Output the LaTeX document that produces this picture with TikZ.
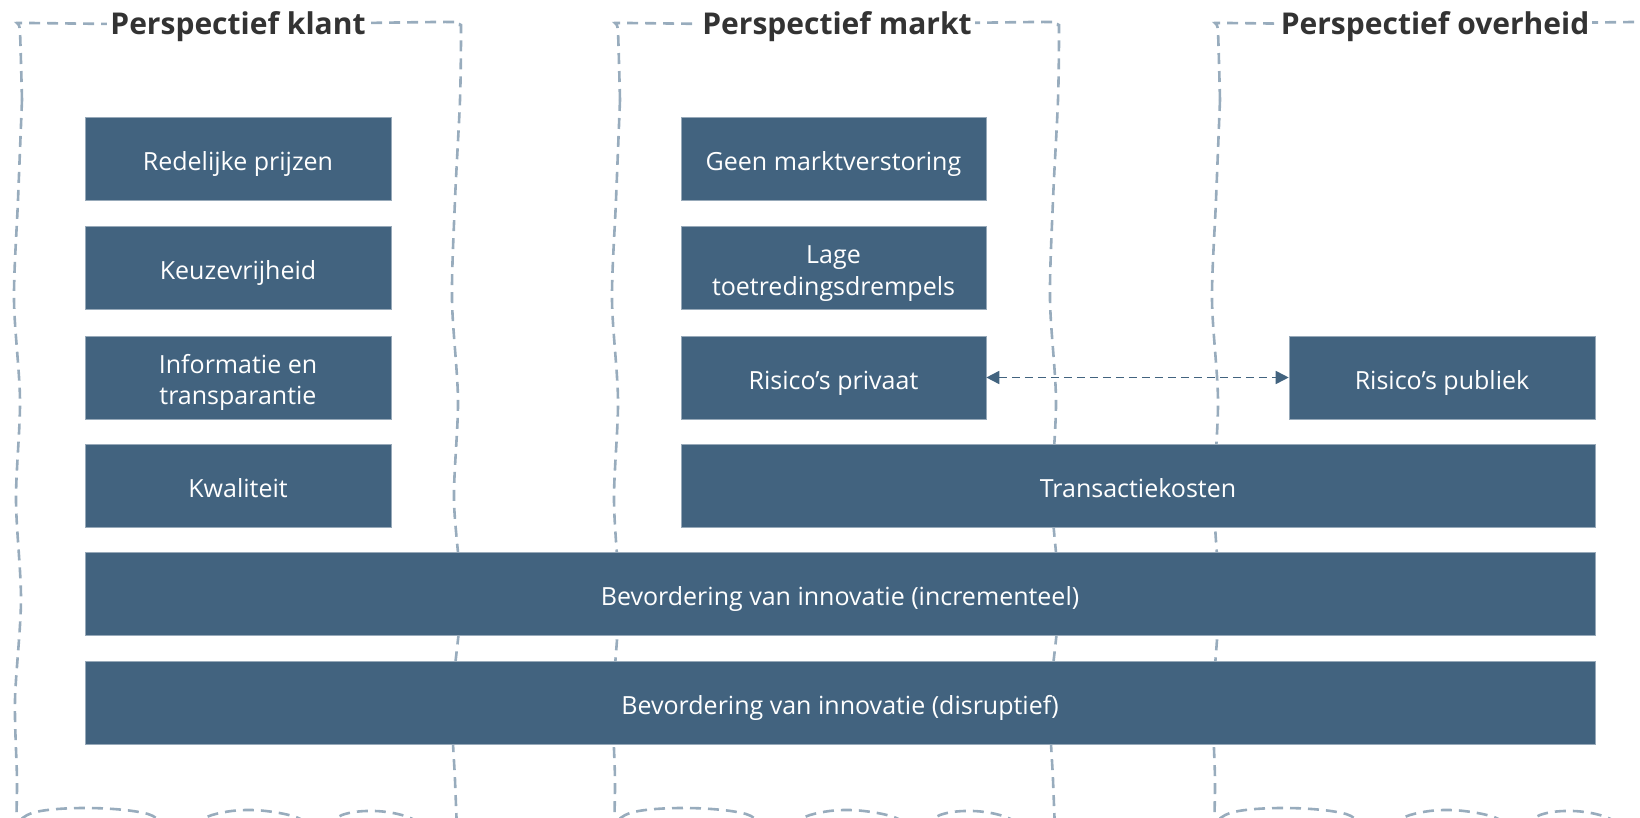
\documentclass[tikz,border=0pt]{standalone}
\usepackage{fontspec}
\setmainfont{Open Sans}
\usetikzlibrary{arrows.meta}
\definecolor{boxcol}{HTML}{42637F}
\definecolor{framecol}{HTML}{98ACBD}
\definecolor{titlecol}{HTML}{333333}
\newcommand{\twolines}[2]{\begin{tabular}{@{}c@{}}#1\\#2\end{tabular}}
\begin{document}
\begin{tikzpicture}[x=1pt,y=-1pt,
  box/.style={fill=boxcol, draw=boxcol!55!white, line width=0.6pt, text=white,
    font=\fontsize{25}{31.5}\selectfont, align=center, minimum height=83pt, inner sep=0pt,
    text height=29pt, text depth=5.7pt},
  frm/.style={draw=framecol, line width=2.6pt, dash pattern=on 11pt off 7pt},
  ttl/.style={fill=white, text=titlecol, font=\fontsize{30}{36}\selectfont\bfseries,
    inner xsep=3pt, inner ysep=2pt, anchor=base},
  link/.style={draw=boxcol, line width=1.7pt, dash pattern=on 8pt off 5pt,
    {Triangle[length=13pt,width=13pt]}-{Triangle[length=13pt,width=13pt]}}
]
\useasboundingbox (0,0) rectangle (1640,818);
\begin{scope}
\clip (0,0) rectangle (1640,818);
\foreach \dx in {0,598,1198} {
  \begin{scope}[xshift=\dx pt]
    \draw[frm] plot[smooth, tension=0.5] coordinates {(22,100) (20,32) (18,24) (26,23) (120,24) (240,24) (360,23) (452,22) (460,25) (461,32) (460,100) (455,200) (452,300) (458,400) (454,500) (461,600) (452,700) (455,780) (457,830)};
    \draw[frm] plot[smooth, tension=0.5] coordinates {(22,100) (18,200) (14,300) (20,400) (16,500) (21,600) (15,700) (17,780) (16,830)};
    \draw[frm] plot[smooth, tension=0.6] coordinates {(10,832) (32,813) (89,808) (148,814) (175,832) (212,815) (252,810) (296,817) (318,832) (342,815) (375,811) (408,817) (432,832)};
  \end{scope}
}
\end{scope}

\node[ttl] (t1) at (238,35) {Perspectief klant};
\node[ttl] (t2) at (837,35) {Perspectief markt};
\node[ttl] (t3) at (1435,35) {Perspectief overheid};

\node[box, minimum width=306pt] (b1) at (238,158.5) {Redelijke prijzen};
\node[box, minimum width=306pt] (b2) at (238,268) {Keuzevrijheid};
\node[box, minimum width=306pt] (b3) at (238,377.5) {\twolines{Informatie en}{transparantie}};
\node[box, minimum width=306pt] (b4) at (238,485.5) {Kwaliteit};

\node[box, minimum width=305pt] (m1) at (833.5,158.5) {Geen marktverstoring};
\node[box, minimum width=305pt] (m2) at (833.5,268) {\twolines{Lage}{toetredingsdrempels}};
\node[box, minimum width=305pt] (m3) at (833.5,377.5) {Risico’s privaat};

\node[box, minimum width=306pt] (o1) at (1442,377.5) {Risico’s publiek};

\node[box, minimum width=914pt] (tk) at (1138,485.5) {Transactiekosten};
\node[box, minimum width=1510pt] (in1) at (840,593.5) {Bevordering van innovatie (incrementeel)};
\node[box, minimum width=1510pt] (in2) at (840,702.5) {Bevordering van innovatie (disruptief)};

\draw[link] (m3.east) -- (o1.west);
\end{tikzpicture}
\end{document}
